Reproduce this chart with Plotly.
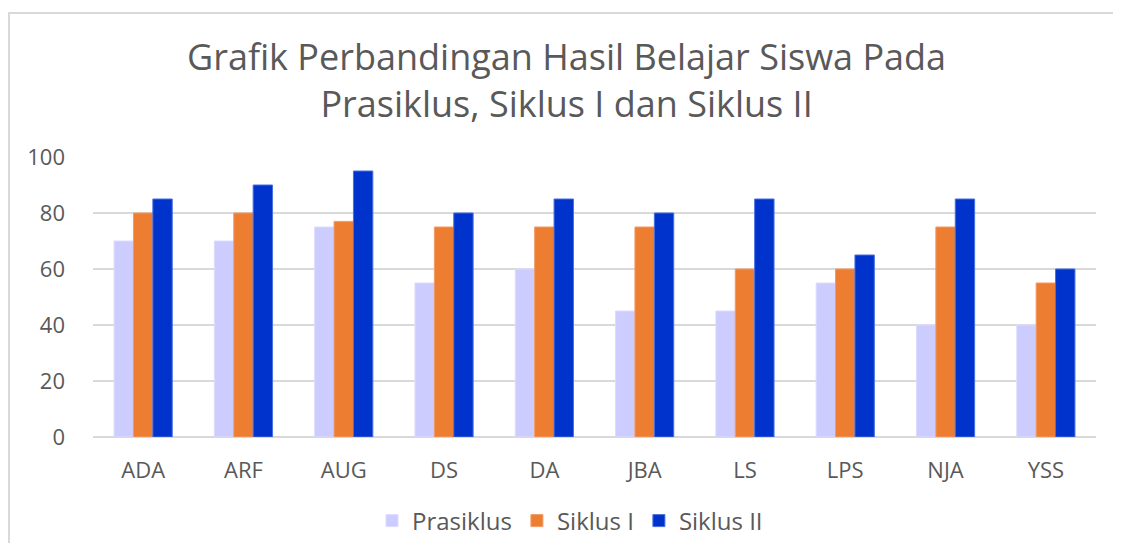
import plotly.graph_objects as go

categories = ["ADA", "ARF", "AUG", "DS", "DA", "JBA", "LS", "LPS", "NJA", "YSS"]
prasiklus = [70, 70, 75, 55, 60, 45, 45, 55, 40, 40]
siklus1 = [80, 80, 77, 75, 75, 75, 60, 60, 75, 55]
siklus2 = [85, 90, 95, 80, 85, 80, 85, 65, 85, 60]
y_ticks = [0, 20, 40, 60, 80, 100]
title_text = "Grafik Perbandingan Hasil Belajar Siswa Pada<br>Prasiklus, Siklus I dan Siklus II"

FONT = "Open Sans"
TXT = "#595959"

fig = go.Figure()
fig.add_trace(go.Bar(name="Prasiklus", x=categories, y=prasiklus,
                     marker=dict(color="#CCCCFF", line=dict(color="#dcdcff", width=1))))
fig.add_trace(go.Bar(name="Siklus I", x=categories, y=siklus1,
                     marker=dict(color="#ED7D31", line=dict(color="#f29a66", width=1))))
fig.add_trace(go.Bar(name="Siklus II", x=categories, y=siklus2,
                     marker=dict(color="#0033CC", line=dict(color="#4a6fe0", width=1))))

# page offset caused by the default body margin
OX, OY = 8, 8
W, H = 1113, 535
L = 93 - OX
R = W - (1096 - OX)
T = 157 - OY
B = H - (437 - OY)
pw = W - L - R
ph = H - T - B

def px(x):
    return (x - OX - L) / pw

def py(y):
    return (H - B - (y - OY)) / ph

fig.update_layout(
    width=W, height=H,
    margin=dict(l=L, r=R, t=T, b=B, autoexpand=False),
    paper_bgcolor="white", plot_bgcolor="white",
    barmode="group", bargap=0.42, bargroupgap=0,
    font=dict(family=FONT, color=TXT),
    showlegend=True,
    legend=dict(orientation="h", xref="container", yref="container",
                x=(570 - OX) / W, xanchor="center", y=1 - (521 - OY) / H, yanchor="middle",
                font=dict(size=24, color=TXT), itemwidth=30, traceorder="normal"),
    xaxis=dict(showgrid=False, showline=False, ticks="", ticklabelstandoff=18, automargin=False,
               tickfont=dict(size=22, color=TXT)),
    yaxis=dict(range=[0, 100], tickvals=y_ticks, showgrid=True, gridcolor="#d9d9d9", gridwidth=1.5,
               zeroline=True, zerolinecolor="#d9d9d9", zerolinewidth=2, showline=False, ticks="",
               automargin=False, ticklabelstandoff=27, tickfont=dict(size=22, color=TXT)),
    annotations=[dict(text=title_text, x=px(566), y=py(80), xref="paper", yref="paper",
                      xanchor="center", yanchor="middle", showarrow=False,
                      font=dict(size=36, color=TXT, family=FONT))],
    shapes=[dict(type="rect", xref="paper", yref="paper",
                 x0=px(9), x1=px(1140), y0=py(13), y1=py(600),
                 line=dict(color="#d9d9d9", width=2), fillcolor="rgba(0,0,0,0)", layer="below")],
)

fig.write_html("out.html")
